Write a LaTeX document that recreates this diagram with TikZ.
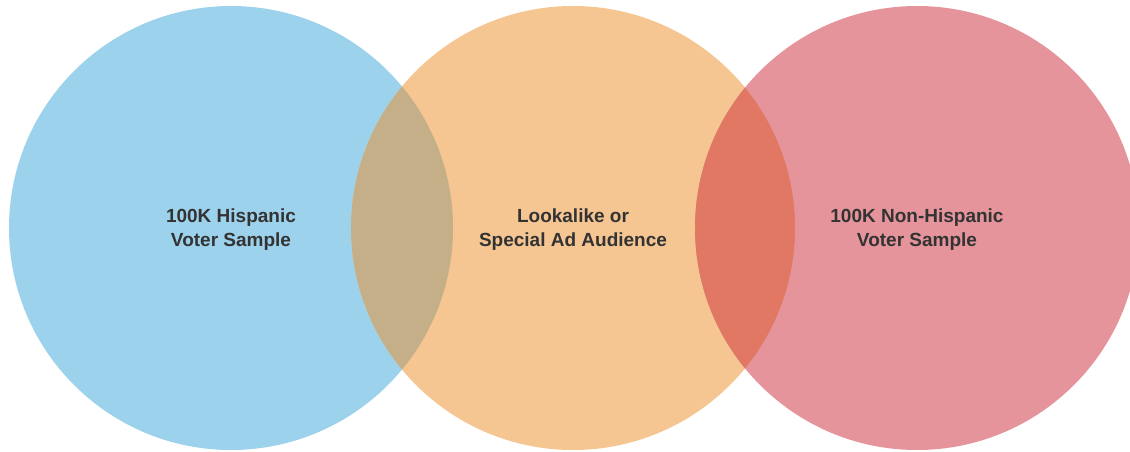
\documentclass[tikz,border=0pt]{standalone}
\usepackage{fontspec}
\setmainfont{Liberation Sans}
\definecolor{cblue}{RGB}{157,210,237}
\definecolor{corange}{RGB}{245,197,146}
\definecolor{cred}{RGB}{228,148,154}
\definecolor{ctan}{RGB}{196,175,137}
\definecolor{cdeep}{RGB}{224,120,99}
\definecolor{ctext}{RGB}{51,51,51}
\begin{document}
\begin{tikzpicture}[x=1pt,y=-1pt,
  venn/.style={circle,inner sep=0pt,minimum size=444pt},
  vlabel/.style={align=center,text=ctext,inner sep=0pt,
    font=\bfseries\fontsize{19}{23.5}\selectfont}]
\useasboundingbox (0,0) rectangle (1130,452);
\clip (0,0) rectangle (1130,452);
\node[venn,fill=cblue] (hisp) at (231,228) {};
\node[venn,fill=corange] (look) at (573,228) {};
\node[venn,fill=cred] (non) at (917,228) {};
\begin{scope}
  \clip (231,228) circle (222);
  \fill[ctan] (573,228) circle (222);
\end{scope}
\begin{scope}
  \clip (917,228) circle (222);
  \fill[cdeep] (573,228) circle (222);
\end{scope}
\node[vlabel] (hispt) at ([yshift=-1.5pt]hisp.center) {100K Hispanic\\Voter Sample};
\node[vlabel] (lookt) at ([yshift=-1.5pt]look.center) {Lookalike or\\Special Ad Audience};
\node[vlabel] (nont) at ([yshift=-1.5pt]non.center) {100K Non-Hispanic\\Voter Sample};
\end{tikzpicture}
\end{document}
